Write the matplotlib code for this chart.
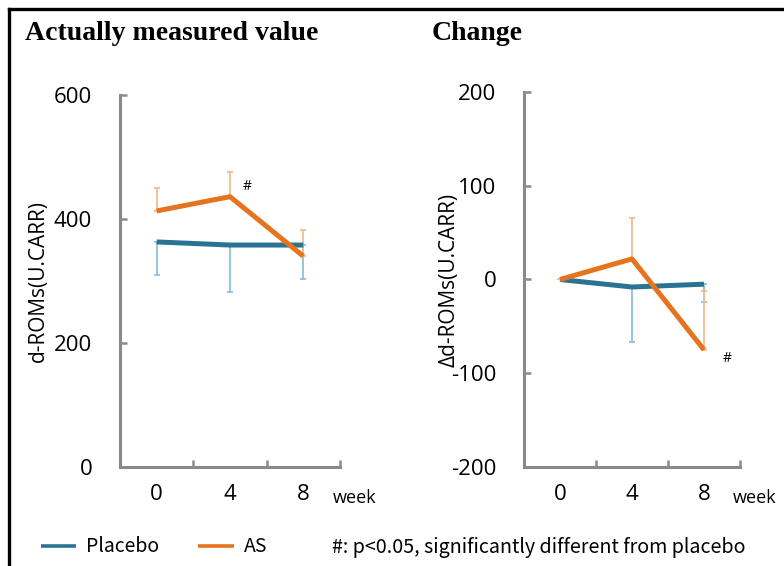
import matplotlib
matplotlib.use("Agg")
import numpy as np
from matplotlib import pyplot as plt
from matplotlib.lines import Line2D

weeks = ["0", "4", "8"]

# actually measured d-ROMs (U.CARR)
placebo_abs = [363, 358, 358]
placebo_abs_err = [53, 76, 55]      # drawn downward only
as_abs = [413, 436, 340]
as_abs_err = [37, 40, 42]           # drawn upward only

# change from baseline
placebo_chg = [0, -8, -5]
placebo_chg_err = [0, 59, 19]
as_chg = [0, 22, -75]
as_chg_err = [0, 44, 63]

c_placebo = "#2b7393"
c_as = "#e8731f"
c_placebo_err = "#8fc1dc"
c_as_err = "#f4bd8c"
grey = "#8a8a8a"

plt.rcParams["font.family"] = ["Open Sans", "DejaVu Sans"]
plt.rcParams["axes.unicode_minus"] = False

fig = plt.figure(figsize=(7.84, 5.66), dpi=100)
ax1 = fig.add_axes([120 / 784, 1 - 467 / 566, 220 / 784, 372 / 566])
ax2 = fig.add_axes([524 / 784, 1 - 467 / 566, 216 / 784, 375 / 566])

x = np.arange(len(weeks))


def draw(ax, pl, pl_err, a, a_err):
    ax.errorbar(x, pl, yerr=[pl_err, np.zeros(len(pl_err))], fmt="none",
                ecolor=c_placebo_err, elinewidth=1.3, capsize=2.5, capthick=1.3, zorder=2)
    ax.errorbar(x, a, yerr=[np.zeros(len(a_err)), a_err], fmt="none",
                ecolor=c_as_err, elinewidth=1.3, capsize=2.5, capthick=1.3, zorder=2)
    l1, = ax.plot(x, pl, color=c_placebo, lw=3.6, solid_capstyle="butt", zorder=3)
    l2, = ax.plot(x, a, color=c_as, lw=3.6, solid_capstyle="butt", zorder=4)
    ax.set_xlim(-0.5, 2.5)
    ax.set_xticks([0.5, 1.5, 2.5])
    ax.set_xticklabels([])
    ax.set_xticks(x, minor=True)
    ax.set_xticklabels(weeks, minor=True)
    ax.tick_params(axis="x", which="major", direction="in", length=5, width=1.8, color=grey)
    ax.tick_params(axis="x", which="minor", length=0, pad=12, labelsize=16)
    ax.tick_params(axis="y", direction="in", length=5, width=1.8, color=grey, labelsize=16, pad=20)
    for s in ["top", "right"]:
        ax.spines[s].set_visible(False)
    for s in ["left", "bottom"]:
        ax.spines[s].set_color(grey)
        ax.spines[s].set_linewidth(2.2)
    ax.text(0.968, -0.083, "week", transform=ax.transAxes, fontsize=13, va="center", ha="left")
    return l1, l2


l1, l2 = draw(ax1, placebo_abs, placebo_abs_err, as_abs, as_abs_err)
ax1.set_ylim(0, 600)
ax1.set_yticks([0, 200, 400, 600])
ax1.set_ylabel("d-ROMs(U.CARR)", fontsize=15, labelpad=4)
ax1.text(1.23, 452, "#", fontsize=10, ha="center", va="center")

draw(ax2, placebo_chg, placebo_chg_err, as_chg, as_chg_err)
ax2.set_ylim(-200, 200)
ax2.set_yticks([-200, -100, 0, 100, 200])
ax2.set_ylabel("\u0394d-ROMs(U.CARR)", fontsize=15, labelpad=-6)
ax2.text(2.32, -84, "#", fontsize=10, ha="center", va="center")

fig.text(25 / 784, 1 - 33 / 566, "Actually measured value", family="Liberation Serif",
         fontweight="bold", fontsize=20, va="center", ha="left")
fig.text(432 / 784, 1 - 33 / 566, "Change", family="Liberation Serif",
         fontweight="bold", fontsize=20, va="center", ha="left")

leg_font = ["Noto Sans CJK JP", "DejaVu Sans"]
fig.legend([l1, l2], ["Placebo", "AS"], loc="center left", bbox_to_anchor=(23 / 784, 1 - 547 / 566),
           ncol=2, frameon=False, handlelength=1.85, handletextpad=0.5, columnspacing=2.0,
           prop={"family": leg_font, "size": 14})
for lh in fig.legends[0].get_lines():
    lh.set_linewidth(2.6)
fig.text(332 / 784, 1 - 547 / 566, "#: p<0.05, significantly different from placebo",
         family=leg_font, fontsize=14.2, va="center", ha="left")

# black frame on top and left
fig.add_artist(Line2D([9 / 784, 1], [1 - 9 / 566, 1 - 9 / 566], transform=fig.transFigure,
                      color="black", lw=2.4))
fig.add_artist(Line2D([9 / 784, 9 / 784], [0, 1 - 9 / 566], transform=fig.transFigure,
                      color="black", lw=2.4))

fig.savefig("out.png", dpi=100)
